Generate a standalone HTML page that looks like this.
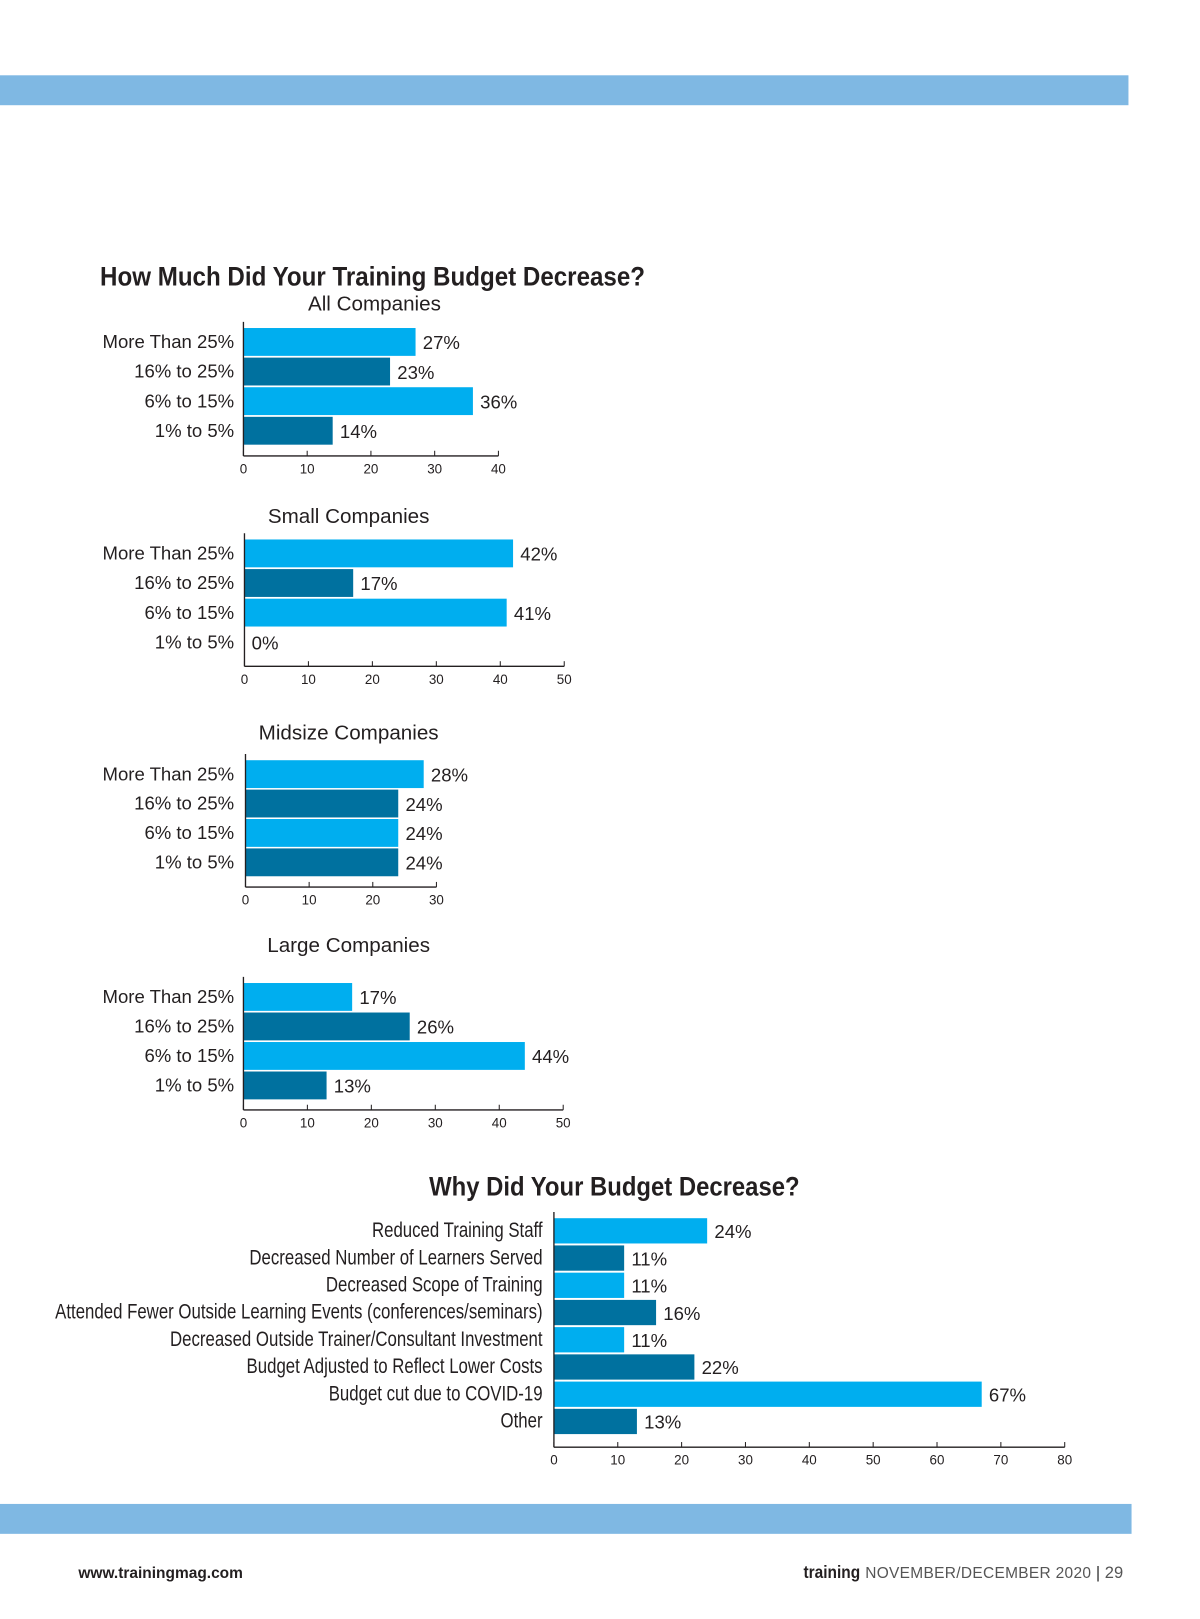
<!DOCTYPE html>
<html><head><meta charset="utf-8">
<style>
html,body{margin:0;padding:0;background:#fff;width:1200px;height:1613px;overflow:hidden}
#page{position:absolute;left:0;top:0;width:1160px;height:1570px;transform:scale(1.0315);transform-origin:0 0;font-family:"Liberation Sans",sans-serif;color:#231f20}
.band{position:absolute;left:0;background:#7fb8e3;height:29px}
</style></head><body>
<div id="page">
<div class="band" style="top:73px;width:1094px"></div>
<div class="band" style="top:1458px;width:1097px"></div>
<div style="position:absolute;left:97px;top:253px;font-size:26px;font-weight:bold;white-space:nowrap;transform:scaleX(0.9);transform-origin:0 0">How Much Did Your Training Budget Decrease?</div>
<div style="position:absolute;left:416px;top:1135px;font-size:26px;font-weight:bold;white-space:nowrap;transform:scaleX(0.89);transform-origin:0 0">Why Did Your Budget Decrease?</div>
<svg id="svg" width="1160" height="1560" style="position:absolute;left:0;top:0;font-family:'Liberation Sans',sans-serif"></svg>
<div style="position:absolute;left:76px;top:1517px;font-size:15px;font-weight:bold">www.trainingmag.com</div>
<div style="position:absolute;left:779px;top:1515px;font-size:16px;white-space:nowrap"><b style="font-size:17px;display:inline-block;transform:scaleX(0.88);transform-origin:0 50%;margin-right:-7px">training</b> <span style="color:#555;letter-spacing:0.3px;font-size:15px">NOVEMBER/DECEMBER 2020</span> <span style="color:#333">|</span> <span style="color:#555">29</span></div>
</div>
<script>
const catsBudget=["More Than 25%","16% to 25%","6% to 15%","1% to 5%"];
const valsAll=[27,23,36,14];
const valsSmall=[42,17,41,0];
const valsMid=[28,24,24,24];
const valsLarge=[17,26,44,13];
const ticks40=[0,10,20,30,40];
const ticks50=[0,10,20,30,40,50];
const ticks30=[0,10,20,30];
const catsWhy=["Reduced Training Staff","Decreased Number of Learners Served","Decreased Scope of Training","Attended Fewer Outside Learning Events (conferences/seminars)","Decreased Outside Trainer/Consultant Investment","Budget Adjusted to Reflect Lower Costs","Budget cut due to COVID-19","Other"];
const valsWhy=[24,11,11,16,11,22,67,13];
const ticks80=[0,10,20,30,40,50,60,70,80];
const LIGHT="#00aeef",DARK="#00719f";
const svg=document.getElementById('svg');
const NS="http://www.w3.org/2000/svg";
function mk(tag,attrs,parent){const e=document.createElementNS(NS,tag);for(const k in attrs)e.setAttribute(k,attrs[k]);(parent||svg).appendChild(e);return e;}
function chart(cfg){
  const g=mk('g',{});
  
  
  const x=v=>cfg.x0+v*cfg.unit;
  const y=i=>cfg.top+i*cfg.step;
  if(cfg.subtitle){const t=mk('text',{x:cfg.subX,y:cfg.subY,'text-anchor':'middle','font-size':20,fill:'#231f20'},g);t.textContent=cfg.subtitle;
    }
  cfg.cats.forEach((c,i)=>{
    const r=mk('rect',{x:x(0),y:y(i),width:x(cfg.vals[i])-x(0),height:cfg.h,fill:i%2?DARK:LIGHT},g);
    
    
    const lg=mk('g',{transform:'translate('+cfg.labelX+','+(y(i)+cfg.h/2+6)+') scale('+cfg.sx+',1)'},g);
    const lb=mk('text',{x:0,y:0,'text-anchor':'end','font-size':cfg.fs,fill:'#231f20'},lg);lb.textContent=c;
    
    
    const vl=mk('text',{x:x(cfg.vals[i])+7,y:y(i)+cfg.h/2+7,'font-size':18,fill:'#231f20'},g);vl.textContent=cfg.vals[i]+'%';
    
    
  });
  const maxT=cfg.ticks[cfg.ticks.length-1];
  mk('line',{x1:x(0),x2:x(0),y1:cfg.top-6,y2:cfg.axisY,stroke:'#231f20','stroke-width':1.3},g);
  mk('line',{x1:x(0),x2:x(maxT),y1:cfg.axisY,y2:cfg.axisY,stroke:'#231f20','stroke-width':1.3},g);
  cfg.ticks.forEach(t=>{
    mk('line',{x1:x(t),x2:x(t),y1:cfg.axisY-5,y2:cfg.axisY,stroke:'#231f20','stroke-width':1},g);
    const tl=mk('text',{x:x(t),y:cfg.axisY+17,'text-anchor':'middle','font-size':13,fill:'#231f20'},g);tl.textContent=t;
    
    
  });
}
chart({name:'all-companies-chart',subtitle:'All Companies',subX:363,subY:301,cats:catsBudget,vals:valsAll,ticks:ticks40,x0:236,unit:6.18,top:318,step:28.7,h:27,axisY:442,labelX:227,fs:18,sx:1});
chart({name:'small-companies-chart',subtitle:'Small Companies',subX:338,subY:507,cats:catsBudget,vals:valsSmall,ticks:ticks50,x0:237,unit:6.2,top:523,step:28.7,h:27,axisY:646,labelX:227,fs:18,sx:1});
chart({name:'midsize-companies-chart',subtitle:'Midsize Companies',subX:338,subY:717,cats:catsBudget,vals:valsMid,ticks:ticks30,x0:238,unit:6.17,top:737,step:28.5,h:27,axisY:860,labelX:227,fs:18,sx:1});
chart({name:'large-companies-chart',subtitle:'Large Companies',subX:338,subY:923,cats:catsBudget,vals:valsLarge,ticks:ticks50,x0:236,unit:6.2,top:953,step:28.6,h:27,axisY:1076,labelX:227,fs:18,sx:1});
chart({name:'why-decrease-chart',cats:catsWhy,vals:valsWhy,ticks:ticks80,x0:537,unit:6.19,top:1181,step:26.4,h:24.5,axisY:1403,labelX:526,fs:21,sx:0.776});
</script>
</body></html>
